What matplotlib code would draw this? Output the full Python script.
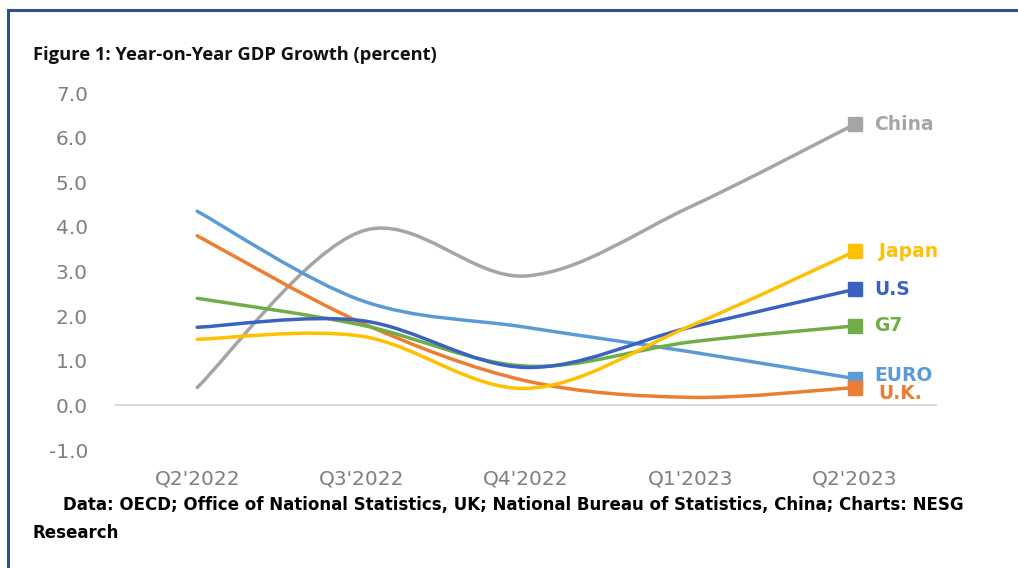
import matplotlib.pyplot as plt
from matplotlib.path import Path
from matplotlib.patches import PathPatch, Rectangle
import numpy as np

quarters = ["Q2'2022", "Q3'2022", "Q4'2022", "Q1'2023", "Q2'2023"]
china = [0.4, 3.9, 2.9, 4.45, 6.3]
euro = [4.35, 2.35, 1.75, 1.2, 0.6]
uk = [3.8, 1.85, 0.55, 0.18, 0.4]
g7 = [2.4, 1.8, 0.88, 1.42, 1.78]
us = [1.75, 1.9, 0.85, 1.75, 2.6]
japan = [1.48, 1.55, 0.38, 1.78, 3.45]

series = [
    ("China", china, "#a5a5a5"),
    ("EURO", euro, "#5b9bd5"),
    ("U.K.", uk, "#ed7d31"),
    ("G7", g7, "#70ad47"),
    ("U.S", us, "#3a62c0"),
    ("Japan", japan, "#ffc000"),
]
label_offsets = {"China": 0.0, "Japan": 0.0, "U.S": 0.0, "G7": 0.0, "EURO": 0.07, "U.K.": -0.14}
label_gap = {"China": 0.12, "Japan": 0.15, "U.S": 0.12, "G7": 0.12, "EURO": 0.12, "U.K.": 0.14}


def smooth_path(xs, ys):
    # excel-like smoothing: catmull-rom turned into cubic bezier pieces
    pts = list(zip(xs, ys))
    verts = [pts[0]]
    codes = [Path.MOVETO]
    n = len(pts)
    for i in range(n - 1):
        p0 = pts[max(i - 1, 0)]
        p1 = pts[i]
        p2 = pts[i + 1]
        p3 = pts[min(i + 2, n - 1)]
        c1 = (p1[0] + (p2[0] - p0[0]) / 6, p1[1] + (p2[1] - p0[1]) / 6)
        c2 = (p2[0] - (p3[0] - p1[0]) / 6, p2[1] - (p3[1] - p1[1]) / 6)
        verts += [c1, c2, p2]
        codes += [Path.CURVE4] * 3
    return Path(verts, codes)


plt.rcParams['font.family'] = ['Open Sans', 'DejaVu Sans']

fig = plt.figure(figsize=(10.18, 5.68), dpi=100)
fig.patches.append(Rectangle((8 / 1018, -0.1), 1.2, (568 - 10) / 568 + 0.1,
                             transform=fig.transFigure, fill=False,
                             edgecolor="#2e5284", linewidth=2.2))

ax = fig.add_axes([115 / 1018, 118 / 568, 822 / 1018, 357 / 568])
x = np.arange(len(quarters))
for name, vals, color in series:
    patch = PathPatch(smooth_path(x, vals), facecolor="none", edgecolor=color,
                      linewidth=2.5, capstyle="round", joinstyle="round")
    ax.add_patch(patch)
    ax.plot(x[-1], vals[-1], marker="s", markersize=10, color=color)
    ax.text(x[-1] + label_gap[name], vals[-1] + label_offsets[name], name, color=color,
            fontsize=13.5, fontweight="bold", va="center", ha="left",
            family="DejaVu Sans")

ax.axhline(0, color="#d9d9d9", linewidth=1.5)
ax.set_xlim(-0.5, len(quarters) - 0.5)
ax.set_ylim(-1, 7)
ax.set_yticks(np.arange(-1, 8, 1))
ax.set_yticklabels([f"{v:.1f}" for v in np.arange(-1, 8, 1)], family="DejaVu Sans")
ax.set_xticks(x)
ax.set_xticklabels(quarters, family="DejaVu Sans")
ax.tick_params(axis="y", length=0, pad=19.5, labelsize=14.5, labelcolor="#7f7f7f")
ax.tick_params(axis="x", length=0, pad=14, labelsize=14.5, labelcolor="#7f7f7f")
for s in ax.spines.values():
    s.set_visible(False)

fig.text(33 / 1018, 1 - 55 / 568, "Figure 1: Year-on-Year GDP Growth (percent)",
         fontsize=13.2, fontweight="bold", va="center", ha="left", color="#111111")
fig.text(63 / 1018, 1 - 505 / 568,
         "Data: OECD; Office of National Statistics, UK; National Bureau of Statistics, China; Charts: NESG",
         fontsize=12, fontweight="bold", va="center", ha="left", family="DejaVu Sans")
fig.text(33 / 1018, 1 - 533 / 568, "Research", fontsize=12, fontweight="bold",
         va="center", ha="left", family="DejaVu Sans")

fig.savefig("out.png", dpi=100)
